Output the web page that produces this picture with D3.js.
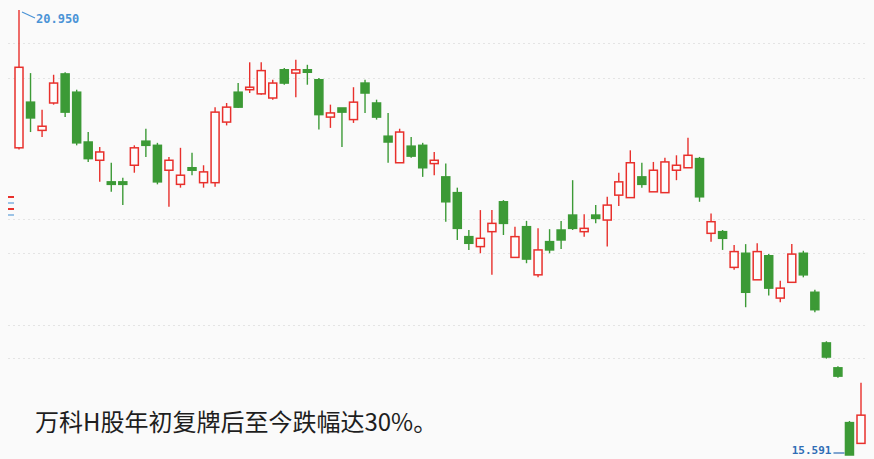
<!DOCTYPE html>
<html>
<head>
<meta charset="utf-8">
<script src="https://cdn.jsdelivr.net/npm/d3@7/dist/d3.min.js"></script>
<style>
  html, body { margin: 0; padding: 0; background: #fafafa; }
  svg { display: block; }
</style>
</head>
<body>
<svg id="chart" width="874" height="459"></svg>
<script>
// ---- data ----
const opens  = [19.29,19.84,19.50,19.83,20.18,19.96,19.36,19.14,18.88,18.88,19.08,19.37,19.32,19.02,18.85,19.05,18.87,18.87,19.60,19.96,19.99,19.94,19.89,20.23,20.19,20.23,20.11,19.66,19.77,19.63,20.07,19.83,19.43,19.11,19.31,19.32,19.10,18.94,18.75,18.22,18.10,18.28,18.64,17.97,18.34,17.76,18.16,18.30,18.48,18.28,18.48,18.42,18.72,18.69,18.94,18.76,18.75,19.02,19.05,19.16,18.26,18.28,17.85,18.02,17.70,17.99,17.48,17.67,18.02,17.55,16.94,16.64,15.98,15.73];
const highs  = [20.95,20.19,19.75,20.17,20.20,19.99,19.48,19.30,19.11,18.93,19.32,19.52,19.35,19.18,19.29,19.23,19.08,19.78,19.83,20.07,20.32,20.32,20.11,20.25,20.35,20.29,20.13,19.81,19.77,20.02,20.11,19.87,19.71,19.52,19.42,19.35,19.24,19.10,18.81,18.30,18.54,18.54,18.66,18.34,18.41,18.32,18.31,18.41,18.90,18.49,18.60,18.70,18.99,19.26,19.11,19.12,19.17,19.20,19.41,19.18,18.50,18.30,18.12,18.13,18.14,18.01,17.69,18.13,18.05,17.58,16.96,16.66,16.00,16.46];
const lows   = [19.27,19.48,19.42,19.81,19.66,19.32,19.12,18.88,18.76,18.60,18.99,19.18,18.85,18.58,18.81,18.96,18.81,18.82,19.56,19.77,19.95,19.93,19.87,20.05,19.90,20.05,19.51,19.53,19.30,19.59,19.71,19.63,19.11,19.11,19.17,18.94,18.96,18.40,18.18,18.06,18.02,17.76,18.24,17.97,17.90,17.73,18.02,18.07,18.30,18.22,18.38,18.10,18.59,18.69,18.81,18.76,18.75,18.90,19.05,18.64,18.16,18.06,17.82,17.37,17.70,17.51,17.43,17.67,17.73,17.31,16.75,16.52,15.59,15.73];
const closes = [20.26,19.65,19.55,20.07,19.72,19.35,19.16,19.24,18.85,18.85,19.29,19.32,18.88,19.14,18.96,19.02,19.00,19.72,19.78,19.78,20.02,20.22,20.07,20.07,20.23,20.20,19.69,19.71,19.72,19.84,19.95,19.66,19.36,19.48,19.19,19.05,19.14,18.64,18.32,18.14,18.20,18.38,18.38,18.22,17.95,18.06,18.06,18.18,18.32,18.32,18.44,18.60,18.88,19.11,18.85,19.02,19.12,19.08,19.20,18.70,18.40,18.20,18.04,17.55,18.04,17.60,17.60,18.01,17.76,17.34,16.77,16.54,15.59,16.07];
const maxLabel = "20.950";
const minLabel = "15.591";
const gridPrices = [20.55, 20.13, 18.43, 18.02, 17.16, 16.76];
const caption = "万科H股年初复牌后至今跌幅达30%。";

// ---- drawing ----
const W = 874, H = 459;
const svg = d3.select("#chart");
const UP = "#e8302c", DOWN = "#3c9a36";

const data = opens.map((o, i) => ({i, o, h: highs[i], l: lows[i], c: closes[i]}));

const x = d3.scalePoint().domain(d3.range(data.length)).range([19, 861]);
const y = d3.scaleLinear().domain([15.59, 20.95]).range([455, 10]);

svg.append("rect").attr("width", W).attr("height", H).attr("fill", "#fafafa");

// faint dotted grid lines
svg.append("g").selectAll("line").data(gridPrices).join("line")
  .attr("x1", 8).attr("x2", W - 8)
  .attr("y1", d => Math.round(y(d)) + 0.5).attr("y2", d => Math.round(y(d)) + 0.5)
  .attr("stroke", "#e4e4e4").attr("stroke-width", 1).attr("stroke-dasharray", "2,3");

const bw = 8;
const g = svg.append("g");
const candles = g.selectAll("g.c").data(data).join("g").attr("class", "c");

candles.append("line")
  .attr("x1", d => x(d.i)).attr("x2", d => x(d.i))
  .attr("y1", d => y(d.h)).attr("y2", d => y(d.l))
  .attr("stroke", d => d.c >= d.o ? UP : DOWN)
  .attr("stroke-width", 1.4);

candles.append("rect")
  .attr("x", d => x(d.i) - bw / 2)
  .attr("width", bw)
  .attr("y", d => y(Math.max(d.o, d.c)))
  .attr("height", d => Math.max(1.5, Math.abs(y(d.o) - y(d.c))))
  .attr("fill", d => d.c >= d.o ? "#fdfdfd" : DOWN)
  .attr("stroke", d => d.c >= d.o ? UP : DOWN)
  .attr("stroke-width", 1.5);

// max label
const hiIdx = d3.maxIndex(highs);
const hx = x(hiIdx), hy = y(highs[hiIdx]);
svg.append("line").attr("x1", hx + 3).attr("y1", hy + 2).attr("x2", hx + 16).attr("y2", hy + 8)
  .attr("stroke", "#4a93d6").attr("stroke-width", 1.2);
svg.append("text").attr("x", hx + 17).attr("y", hy + 13)
  .attr("font-family", "DejaVu Sans Mono, monospace").attr("font-size", 12).attr("font-weight", "bold")
  .attr("fill", "#4a93d6").text(maxLabel);

// min label
const loIdx = d3.minIndex(lows);
const lx = x(loIdx), ly = y(lows[loIdx]);
svg.append("line").attr("x1", lx - 16).attr("y1", ly - 2).attr("x2", lx - 5).attr("y2", ly - 2)
  .attr("stroke", "#2f6db5").attr("stroke-width", 1.2);
svg.append("text").attr("x", lx - 18).attr("y", H - 5).attr("text-anchor", "end")
  .attr("font-family", "DejaVu Sans Mono, monospace").attr("font-size", 11).attr("font-weight", "bold")
  .attr("fill", "#2f6db5").text(minLabel);

// small left-edge markers
const marks = [197, 203, 209, 215];
svg.append("g").selectAll("line").data(marks).join("line")
  .attr("x1", 8).attr("x2", 14).attr("y1", d => d).attr("y2", d => d)
  .attr("stroke", (d, i) => i % 2 ? "#9cc3e6" : "#e8302c").attr("stroke-width", 2);

// caption
svg.append("text").attr("x", 35).attr("y", 431)
  .attr("font-family", "Noto Sans CJK SC, sans-serif").attr("font-size", 24)
  .attr("fill", "#1e1e1e").text(caption);
</script>
</body>
</html>
